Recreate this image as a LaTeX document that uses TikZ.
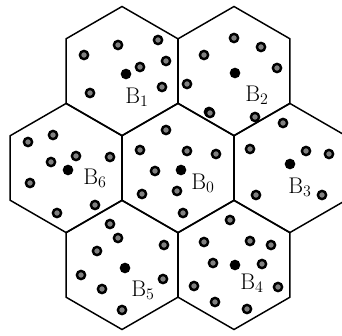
\documentclass[tikz,border=0pt]{standalone}
\usepackage{tikz}
\usetikzlibrary{positioning}

\begin{document}
\begin{tikzpicture}[x=0.75pt,y=-0.75pt,
    cell/.style={line width=1.1pt},
    user/.style={circle,draw=black,line width=1.8pt,fill=black!50,inner sep=0pt,minimum size=6.2pt},
    base/.style={circle,fill=black,inner sep=0pt,minimum size=8pt},
    lbl/.style={font=\fontsize{17}{19}\selectfont,inner sep=0pt}]
\useasboundingbox (0,0) rectangle (342,335);
% cell centres
\foreach \n/\cx/\cy in {0/178/168,1/122/71,2/234/71,3/290/168,4/234/265,5/122/265,6/66/168}
    \coordinate (c\n) at (\cx,\cy);
% hexagonal cells
\foreach \n in {0,...,6}
    \draw[cell] (c\n) +(90:64.5) -- +(150:64.5) -- +(210:64.5) -- +(270:64.5)
        -- +(330:64.5) -- +(30:64.5) -- cycle;
% base stations and labels
\foreach \n/\bx/\by/\lx/\ly in {0/181/170/203/183, 1/126/74/137/97, 2/235/73/257/95,
        3/290/164/300/187, 4/235/265/252/283, 5/125/268/143/290, 6/68/170/95/178}
{
    \node[base] (b\n) at (\bx,\by) {};
    \node[lbl] (l\n) at (\lx,\ly) {B$_\n$};
}
% users
\foreach \x/\y [count=\i] in {
        84/55, 118/45, 158/40, 166/61, 140/67, 162/87, 90/93,
        234/38, 261/47, 204/55, 277/68, 187/84, 209/112, 255/117,
        28/142, 53/135, 51/162, 76/156, 110/157, 30/183, 95/205, 57/213,
        210/113, 166/130, 140/150, 187/151, 216/154, 155/171, 142/194, 177/191, 183/213,
        283/123, 250/149, 306/151, 329/154, 322/195, 256/195,
        110/224, 118/238, 97/251, 164/245, 81/275, 163/279, 102/289, 122/310,
        230/220, 204/242, 250/241, 271/245, 213/263, 262/264, 194/286, 278/287, 215/302, 247/309}
    \node[user] (u\i) at (\x,\y) {};
\end{tikzpicture}
\end{document}
